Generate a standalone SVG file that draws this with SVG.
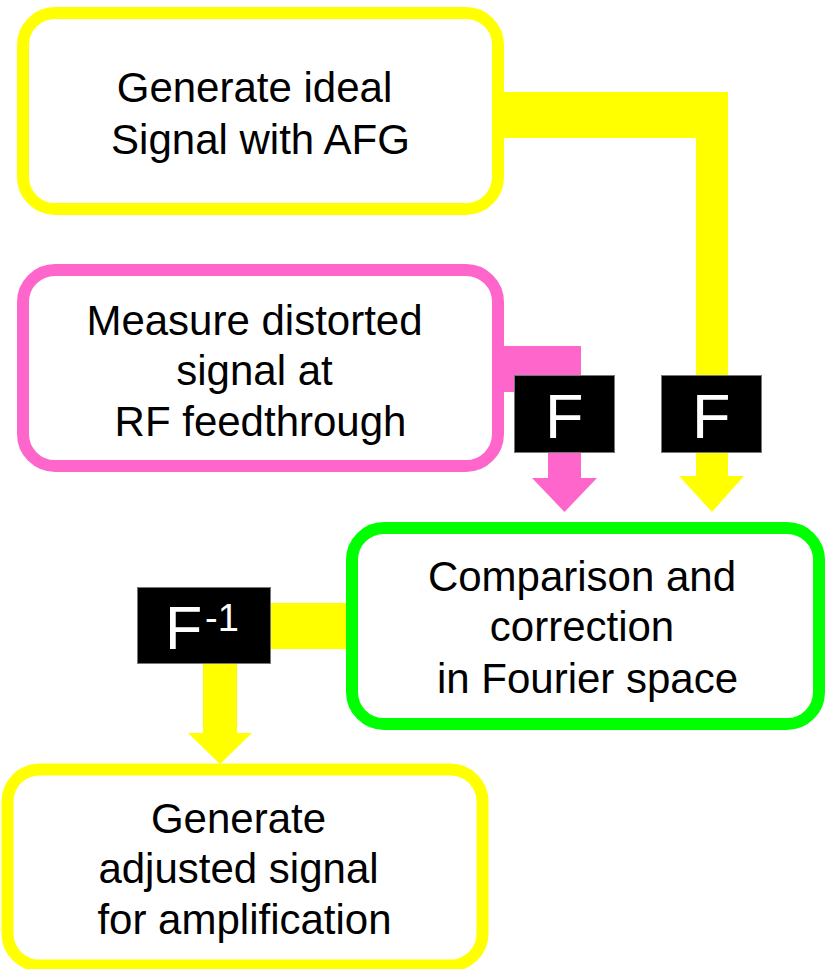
<svg xmlns="http://www.w3.org/2000/svg" width="826" height="969" viewBox="0 0 826 969">
<style>
.box{fill:#fff;stroke-width:12}
.y{stroke:#ffff00}
.p{stroke:#ff66cc}
.g{stroke:#00ff00}
.t{font-family:"Liberation Sans",Arial,sans-serif;font-size:42px;fill:#000;text-anchor:middle}
.fb{fill:#000;stroke:#777;stroke-width:1}
.ft{font-family:"Liberation Sans",Arial,sans-serif;fill:#fff}
</style>
<rect width="826" height="969" fill="#fff"/>
<g id="connectors">
  <g id="c-ideal" fill="#ffff00">
    <polygon points="498,92 728,92 728,476 744,476 712,512 679,476 696,476 696,138 498,138"/>
  </g>
  <g id="c-measured" fill="#ff66cc">
    <polygon points="498,346 581,346 581,478 597,478 564.5,512 532,478 548,478 548,392 498,392"/>
  </g>
  <g id="c-inverse" fill="#ffff00">
    <rect x="250" y="603" width="96" height="46"/>
    <polygon points="203,650 237,650 237,733 252,733 220,764 188,733 203,733"/>
  </g>
  <g id="label-F1">
    <rect class="fb" x="514.5" y="375.5" width="100" height="77"/>
    <text class="ft" x="545" y="438" font-size="63">F</text>
  </g>
  <g id="label-F2">
    <rect class="fb" x="661.5" y="375.5" width="100" height="77"/>
    <text class="ft" x="692" y="438" font-size="63">F</text>
  </g>
  <g id="label-Finv">
    <rect class="fb" x="137.5" y="587.5" width="133" height="76"/>
    <text class="ft" x="165" y="649" font-size="61">F</text>
    <text class="ft" x="205" y="631" font-size="38">-1</text>
  </g>
</g>
<g id="node-ideal">
  <rect class="box y" x="23" y="13" width="475" height="196" rx="32"/>
  <text class="t" x="254.5" y="102">Generate ideal</text>
  <text class="t" x="260.5" y="154">Signal with AFG</text>
</g>
<g id="node-measure">
  <rect class="box p" x="23" y="270" width="475" height="196" rx="32"/>
  <text class="t" x="254.5" y="335">Measure distorted</text>
  <text class="t" x="254.5" y="385">signal at</text>
  <text class="t" x="260.5" y="436">RF feedthrough</text>
</g>
<g id="node-compare">
  <rect class="box g" x="352" y="528" width="467" height="196" rx="32"/>
  <text class="t" x="582" y="591">Comparison and</text>
  <text class="t" x="582" y="641">correction</text>
  <text class="t" x="587.5" y="693">in Fourier space</text>
</g>
<g id="node-adjusted">
  <rect class="box y" x="7.5" y="769.5" width="475" height="196" rx="32"/>
  <text class="t" x="238.5" y="833">Generate</text>
  <text class="t" x="238.5" y="883">adjusted signal</text>
  <text class="t" x="244.5" y="934">for amplification</text>
</g>
</svg>
